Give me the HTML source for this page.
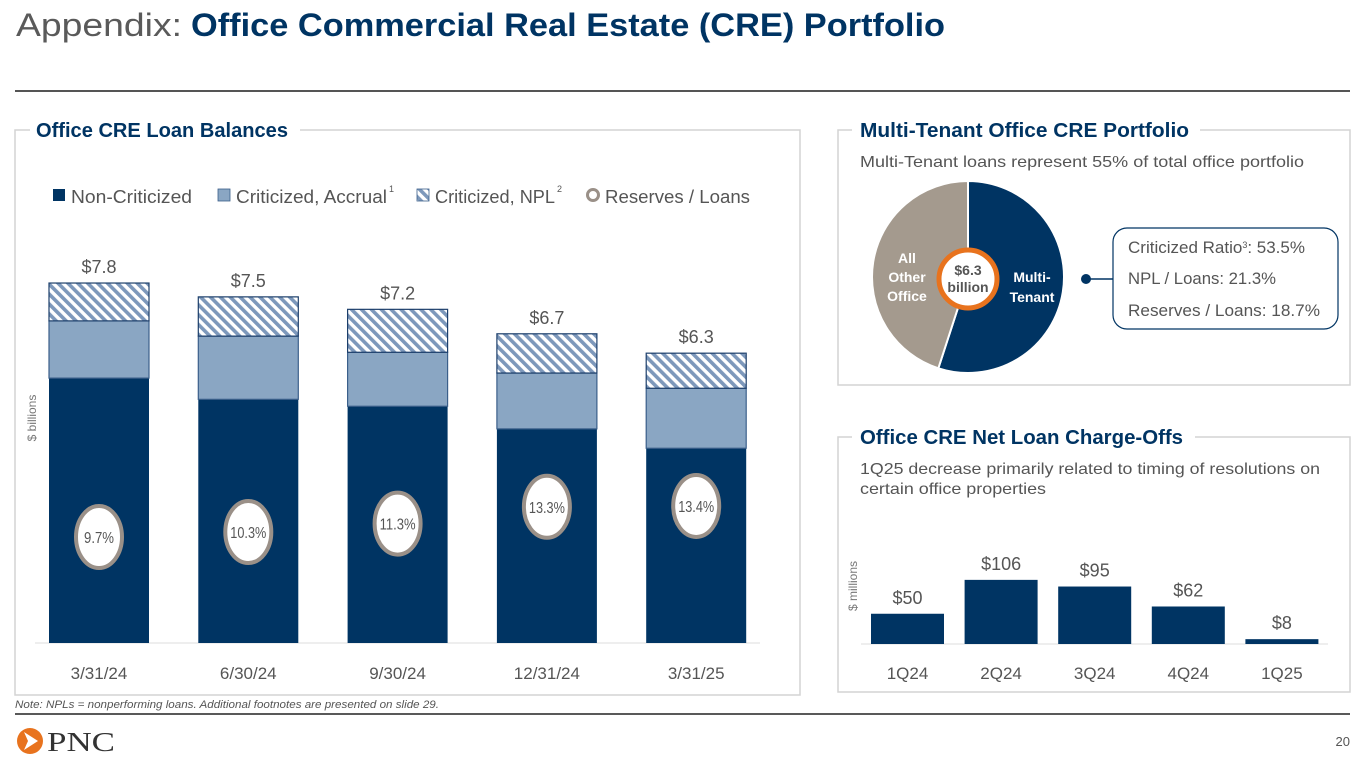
<!DOCTYPE html>
<html><head><meta charset="utf-8"><style>
html,body{margin:0;padding:0;background:#fff;}
svg{display:block;font-family:"Liberation Sans",sans-serif;}
</style></head><body>
<svg id="slide" width="1365" height="768" viewBox="0 0 1365 768">
<defs>
<pattern id="hatch" patternUnits="userSpaceOnUse" width="7" height="7" patternTransform="rotate(-45)">
<rect width="7" height="7" fill="#fff"/><rect width="3.6" height="7" fill="#7d98bb"/>
</pattern>
</defs>
<text x="16" y="36" font-size="32" fill="#5a5a5a" textLength="166" lengthAdjust="spacingAndGlyphs">Appendix:</text>
<text x="191" y="36" font-size="32" font-weight="bold" fill="#003463" textLength="754" lengthAdjust="spacingAndGlyphs">Office Commercial Real Estate (CRE) Portfolio</text>
<line x1="15" y1="91" x2="1350" y2="91" stroke="#555" stroke-width="2"/>

<!-- left panel -->
<path d="M30 130 H15 V695 H800 V130 H300" fill="none" stroke="#d3d3d3" stroke-width="1.5"/>
<text x="36" y="137" font-size="20" font-weight="bold" fill="#003463" textLength="252" lengthAdjust="spacingAndGlyphs">Office CRE Loan Balances</text>
<g font-size="18" fill="#555">
<rect x="53" y="189" width="12" height="12" fill="#003463"/>
<text x="71" y="203" textLength="121" lengthAdjust="spacingAndGlyphs">Non-Criticized</text>
<rect x="218" y="189" width="12" height="12" fill="#8aa6c3" stroke="#3b5f8a" stroke-width="0.8"/>
<text x="236" y="203" textLength="151" lengthAdjust="spacingAndGlyphs">Criticized, Accrual</text>
<text x="389" y="192" font-size="9">1</text>
<rect x="417" y="189" width="12" height="12" fill="url(#hatch)" stroke="#3b5f8a" stroke-width="0.8"/>
<text x="435" y="203" textLength="120" lengthAdjust="spacingAndGlyphs">Criticized, NPL</text>
<text x="557" y="192" font-size="9">2</text>
<circle cx="593" cy="195" r="5.5" fill="#fff" stroke="#9a9088" stroke-width="3"/>
<text x="605" y="203" textLength="145" lengthAdjust="spacingAndGlyphs">Reserves / Loans</text>
</g>
<text transform="translate(36,418) rotate(-90)" font-size="12" fill="#777" text-anchor="middle">$ billions</text>
<line x1="35" y1="643" x2="760" y2="643" stroke="#ddd"/>
<g id="loanChart"></g>

<!-- right top panel -->
<path d="M852 130 H838 V385 H1350 V130 H1200" fill="none" stroke="#d3d3d3" stroke-width="1.5"/>
<text x="860" y="137" font-size="20" font-weight="bold" fill="#003463" textLength="329" lengthAdjust="spacingAndGlyphs">Multi-Tenant Office CRE Portfolio</text>
<text x="860" y="167" font-size="16" fill="#555" textLength="444" lengthAdjust="spacingAndGlyphs">Multi-Tenant loans represent 55% of total office portfolio</text>
<g id="pie"></g>
<circle cx="968" cy="279" r="29" fill="#fff" stroke="#e8731e" stroke-width="5"/>
<text x="968" y="275" font-size="14" font-weight="bold" fill="#555" text-anchor="middle">$6.3</text>
<text x="968" y="292" font-size="14" font-weight="bold" fill="#555" text-anchor="middle">billion</text>
<g font-size="14" font-weight="bold" fill="#fff" text-anchor="middle">
<text x="907" y="263">All</text>
<text x="907" y="282">Other</text>
<text x="907" y="301">Office</text>
<text x="1032" y="282">Multi-</text>
<text x="1032" y="302">Tenant</text>
</g>
<circle cx="1086" cy="279" r="5" fill="#003463"/>
<line x1="1086" y1="279" x2="1113" y2="279" stroke="#003463" stroke-width="1.5"/>
<rect x="1113" y="228" width="225" height="101" rx="14" fill="#fff" stroke="#003463" stroke-width="1.2"/>
<g font-size="17" fill="#555">
<text x="1128" y="253">Criticized Ratio<tspan font-size="9" dy="-5">3</tspan><tspan dy="5">: 53.5%</tspan></text>
<text x="1128" y="284" textLength="148" lengthAdjust="spacingAndGlyphs">NPL / Loans: 21.3%</text>
<text x="1128" y="316" textLength="192" lengthAdjust="spacingAndGlyphs">Reserves / Loans: 18.7%</text>
</g>

<!-- right bottom panel -->
<path d="M852 437 H838 V692 H1350 V437 H1195" fill="none" stroke="#d3d3d3" stroke-width="1.5"/>
<text x="860" y="444" font-size="20" font-weight="bold" fill="#003463" textLength="323" lengthAdjust="spacingAndGlyphs">Office CRE Net Loan Charge-Offs</text>
<text x="860" y="474" font-size="16" fill="#555" textLength="460" lengthAdjust="spacingAndGlyphs">1Q25 decrease primarily related to timing of resolutions on</text>
<text x="860" y="494" font-size="16" fill="#555" textLength="186" lengthAdjust="spacingAndGlyphs">certain office properties</text>
<text transform="translate(857,586) rotate(-90)" font-size="12" fill="#777" text-anchor="middle">$ millions</text>
<line x1="861" y1="644" x2="1328" y2="644" stroke="#ddd"/>
<g id="coChart"></g>

<!-- footer -->
<text x="15" y="708" font-size="11" font-style="italic" fill="#555" textLength="424" lengthAdjust="spacingAndGlyphs">Note: NPLs = nonperforming loans. Additional footnotes are presented on slide 29.</text>
<line x1="15" y1="714" x2="1350" y2="714" stroke="#222" stroke-width="1.5"/>
<g>
<circle cx="30" cy="741" r="13" fill="#e8731e"/>
<path d="M24 732 L38 741 L24 750 L28 741 Z" fill="#fff"/>
<text x="47" y="751" font-family="Liberation Serif,serif" font-size="27" fill="#333" textLength="68" lengthAdjust="spacingAndGlyphs">PNC</text>
</g>
<text x="1350" y="746" font-size="13" fill="#555" text-anchor="end">20</text>
</svg>
<script>
const NS='http://www.w3.org/2000/svg';
const loanCategories=['3/31/24','6/30/24','9/30/24','12/31/24','3/31/25'];
const nonCriticized=[5.74,5.28,5.13,4.64,4.22];
const criticizedAccrual=[1.24,1.37,1.17,1.21,1.30];
const criticizedNPL=[0.82,0.85,0.93,0.85,0.76];
const totalLabels=['$7.8','$7.5','$7.2','$6.7','$6.3'];
const reserves=[9.7,10.3,11.3,13.3,13.4];
const coCategories=['1Q24','2Q24','3Q24','4Q24','1Q25'];
const chargeOffs=[50,106,95,62,8];
const pieValues=[55,45];
const pieNames=['multi-tenant','all-other-office'];

function mk(tag,attrs,parent){const e=document.createElementNS(NS,tag);for(const k in attrs)e.setAttribute(k,attrs[k]);parent.appendChild(e);return e;}

// loan chart
const lc=document.getElementById('loanChart');
const base=643, ppu=46.15;
const yL=v=>base-v*ppu;
const xL=i=>49+i*149.3;
const yR=v=>base-(24.5+8.4*v);
const bw=100;
loanCategories.forEach((c,i)=>{
  const x=xL(i);
  let y0=base;
  const segs=[[nonCriticized[i],'#003463','none'],[criticizedAccrual[i],'#8aa6c3','#3b5f8a'],[criticizedNPL[i],'url(#hatch)','#1d3f6b']];
  const names=['bar-non-criticized','bar-criticized-accrual','bar-criticized-npl'];
  segs.forEach((s,j)=>{
    const h=s[0]*ppu;
    const r=mk('rect',{x:x,y:y0-h,width:bw,height:h,fill:s[1],stroke:s[2],'stroke-width':1.2},lc);
    
    
    y0-=h;
  });
  const total=nonCriticized[i]+criticizedAccrual[i]+criticizedNPL[i];
  const t=mk('text',{x:x+bw/2,y:yL(total)-10,'font-size':18,fill:'#555','text-anchor':'middle'},lc);
  t.textContent=totalLabels[i];
  
  
  const xl=mk('text',{x:x+bw/2,y:679,'font-size':17,fill:'#555','text-anchor':'middle'},lc);
  xl.textContent=c;
  
  
  const cy=yR(reserves[i]);
  const el=mk('ellipse',{cx:x+bw/2,cy:cy,rx:23,ry:31,fill:'#fff',stroke:'#9a9088','stroke-width':4},lc);
  
  
  const lbl=reserves[i].toFixed(1)+'%';
  const rt=mk('text',{x:x+bw/2,y:cy+6,'font-size':16,fill:'#555','text-anchor':'middle',textLength:lbl.length>4?36:30,lengthAdjust:'spacingAndGlyphs'},lc);
  rt.textContent=lbl;
  
  
});

// charge-off chart
const cc=document.getElementById('coChart');
const cb=644, cp=0.605;
const xC=i=>871+i*93.6;
chargeOffs.forEach((v,i)=>{
  const h=v*cp, x=xC(i);
  const r=mk('rect',{x:x,y:cb-h,width:73,height:h,fill:'#003463'},cc);
  
  
  const t=mk('text',{x:x+36.5,y:cb-h-10,'font-size':18,fill:'#555','text-anchor':'middle'},cc);
  t.textContent='$'+v;
  
  
  const l=mk('text',{x:x+36.5,y:679,'font-size':17,fill:'#555','text-anchor':'middle'},cc);
  l.textContent=coCategories[i];
  
  
});

// pie
const pg=document.getElementById('pie');
const pcx=968,pcy=277,pr=96;
const tot=pieValues.reduce((a,b)=>a+b,0);
let a0=-Math.PI/2;
const cols=['#003463','#a49a8e'];
pieValues.forEach((v,i)=>{
  const a1=a0+v/tot*2*Math.PI;
  const large=(a1-a0)>Math.PI?1:0;
  const d=`M${pcx},${pcy} L${pcx+pr*Math.cos(a0)},${pcy+pr*Math.sin(a0)} A${pr},${pr} 0 ${large} 1 ${pcx+pr*Math.cos(a1)},${pcy+pr*Math.sin(a1)} Z`;
  const p=mk('path',{d:d,fill:cols[i],stroke:'#fff','stroke-width':2},pg);
  
  
  a0=a1;
});
</script>
</body></html>
